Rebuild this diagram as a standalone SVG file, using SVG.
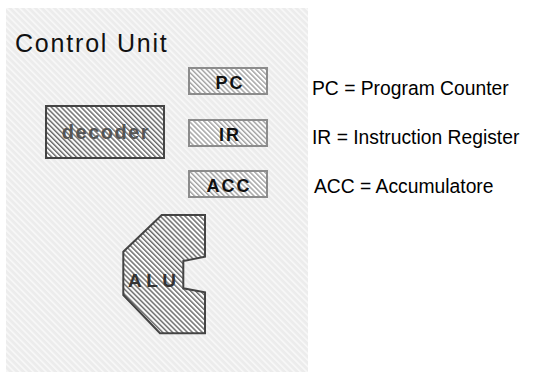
<svg xmlns="http://www.w3.org/2000/svg" width="533" height="372" viewBox="0 0 533 372">
  <defs>
    <pattern id="bgHatch" width="4.5" height="4.5" patternUnits="userSpaceOnUse" patternTransform="rotate(45)">
      <rect width="4.5" height="4.5" fill="#ececec"/>
      <line x1="0" y1="1" x2="4.5" y2="1" stroke="#fafafa" stroke-width="1.4"/>
    </pattern>
    <pattern id="lightHatch" width="3.5" height="3.5" patternUnits="userSpaceOnUse" patternTransform="rotate(45)">
      <rect width="3.5" height="3.5" fill="#ffffff"/>
      <line x1="0" y1="1" x2="3.5" y2="1" stroke="#8f8f8f" stroke-width="1.2"/>
    </pattern>
    <pattern id="darkHatch" width="3.5" height="3.5" patternUnits="userSpaceOnUse" patternTransform="rotate(45)">
      <rect width="3.5" height="3.5" fill="#ffffff"/>
      <line x1="0" y1="1" x2="3.5" y2="1" stroke="#4a4a4a" stroke-width="1.2"/>
    </pattern>
    <style>
      .reg { fill: url(#lightHatch); stroke: #8c8c8c; stroke-width: 2; }
      .regtxt { font-family: "Liberation Sans", Arial, sans-serif; font-weight: bold; font-size: 18px; letter-spacing: 2px; fill: #111; text-anchor: middle; }
      .legend { font-family: "Liberation Sans", Arial, sans-serif; font-size: 19.3px; fill: #000; }
      .dark { fill: url(#darkHatch); stroke: #444; stroke-width: 2; }
    </style>
  </defs>

  <rect id="panel" x="6" y="8" width="302" height="364" fill="url(#bgHatch)"/>

  <g id="title">
    <text x="15" y="52" font-family="'Liberation Sans', Arial, sans-serif" font-size="25" letter-spacing="1.8" fill="#111">Control Unit</text>
  </g>

  <g id="decoder">
    <rect class="dark" x="46" y="106" width="118" height="52"/>
    <text x="106" y="139" font-family="'Liberation Sans', Arial, sans-serif" font-weight="bold" font-size="20" letter-spacing="1.5" fill="#555" text-anchor="middle">decoder</text>
  </g>

  <g id="pc">
    <rect class="reg" x="189" y="68" width="78" height="26"/>
    <text class="regtxt" x="230" y="89">PC</text>
  </g>
  <g id="ir">
    <rect class="reg" x="189" y="120" width="78" height="26"/>
    <text class="regtxt" x="230" y="141">IR</text>
  </g>
  <g id="acc">
    <rect class="reg" x="189" y="171" width="78" height="26"/>
    <text class="regtxt" x="229" y="192">ACC</text>
  </g>

  <g id="alu">
    <polygon class="dark" points="161.7,215 205,215 205,256.7 183.3,261 183.3,288.3 205,292.3 205,333.3 160,333.3 123.3,295 123.3,251.7"/>
    <text x="128" y="287" font-family="'Liberation Sans', Arial, sans-serif" font-weight="bold" font-size="19" letter-spacing="4.5" fill="#333">ALU</text>
  </g>

  <g id="legend">
    <text class="legend" x="312" y="95">PC = Program Counter</text>
    <text class="legend" x="312" y="144">IR = Instruction Register</text>
    <text class="legend" x="314" y="193">ACC = Accumulatore</text>
  </g>

  <g id="connectors"/>
</svg>
